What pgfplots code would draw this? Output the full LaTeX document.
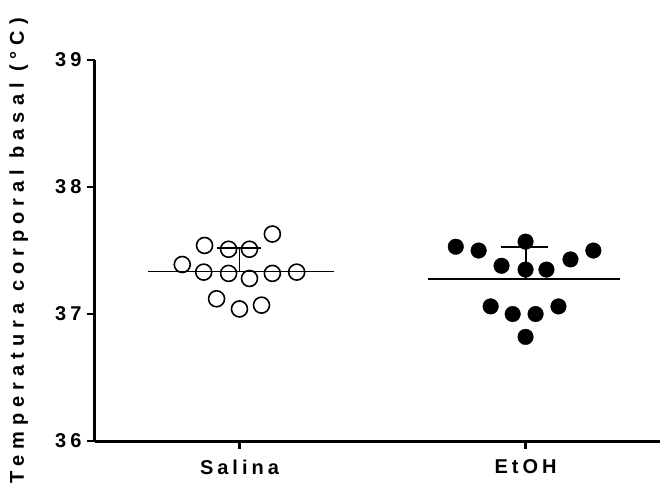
\documentclass[border=0pt]{standalone}
\usepackage{pgfplots}
\pgfplotsset{compat=1.18}
\usepackage{fontspec}
\setmainfont{Liberation Sans}
\newfontfamily\tickfont{Liberation Sans Bold}[LetterSpace=20]
\newfontfamily\labelfont{Liberation Sans Bold}[LetterSpace=30]
\begin{document}
\begin{tikzpicture}
\begin{axis}[
  scale only axis,
  width=565pt, height=381pt,
  xmin=0.495, xmax=2.47,
  ymin=36, ymax=39,
  axis lines=left,
  axis line style={-, line width=3pt, black},
  xtick={1,2}, xticklabels={Salina,EtOH},
  ytick={36,37,38,39},
  tick align=outside,
  major tick length=8pt,
  tick style={line width=2.6pt, black},
  /pgf/number format/assume math mode=true,
  ticklabel style={font=\tickfont\fontsize{20}{22}\selectfont},
  xticklabel style={yshift=-7pt},
  yticklabel style={xshift=-2pt},
  ylabel={Temperatura corporal basal (°C)},
  ylabel style={font=\labelfont\fontsize{20}{22}\selectfont, at={(axis description cs:-0.135,0.5)}, anchor=center},
  clip=false,
]
% Salina
\addplot[only marks, mark=o, mark size=8pt, mark options={line width=1.6pt, black, fill=white}] coordinates {
(0.878,37.54) (0.962,37.51) (1.035,37.51) (1.115,37.63) (0.80,37.39) (0.875,37.33) (0.962,37.32) (1.035,37.28) (1.115,37.32) (1.20,37.33) (0.92,37.12) (1.0,37.04) (1.077,37.07)
};
% EtOH
\addplot[only marks, mark=*, mark size=7.8pt, mark options={black, fill=black}] coordinates {
(1.756,37.53) (1.836,37.50) (2.0,37.57) (1.916,37.38) (2.0,37.35) (2.073,37.35) (2.157,37.43) (2.237,37.50) (1.878,37.06) (1.955,37.00) (2.035,37.00) (2.115,37.06) (2.0,36.82)
};
% mean and SD lines
\addplot[black, line width=1.9pt] coordinates {(0.68,37.335) (1.33,37.335)};
\addplot[black, line width=1.9pt] coordinates {(1,37.335) (1,37.52)};
\addplot[black, line width=1.9pt] coordinates {(0.92,37.52) (1.077,37.52)};
\addplot[black, line width=1.9pt] coordinates {(1.66,37.275) (2.33,37.275)};
\addplot[black, line width=1.9pt] coordinates {(2,37.275) (2,37.525)};
\addplot[black, line width=1.9pt] coordinates {(1.913,37.525) (2.077,37.525)};
\coordinate (bbl) at (rel axis cs:-0.1681,-0.1234);
\coordinate (btr) at (rel axis cs:1.0035,1.1575);
\end{axis}
\pgfresetboundingbox
\useasboundingbox (bbl) rectangle (btr);
\end{tikzpicture}
\end{document}
